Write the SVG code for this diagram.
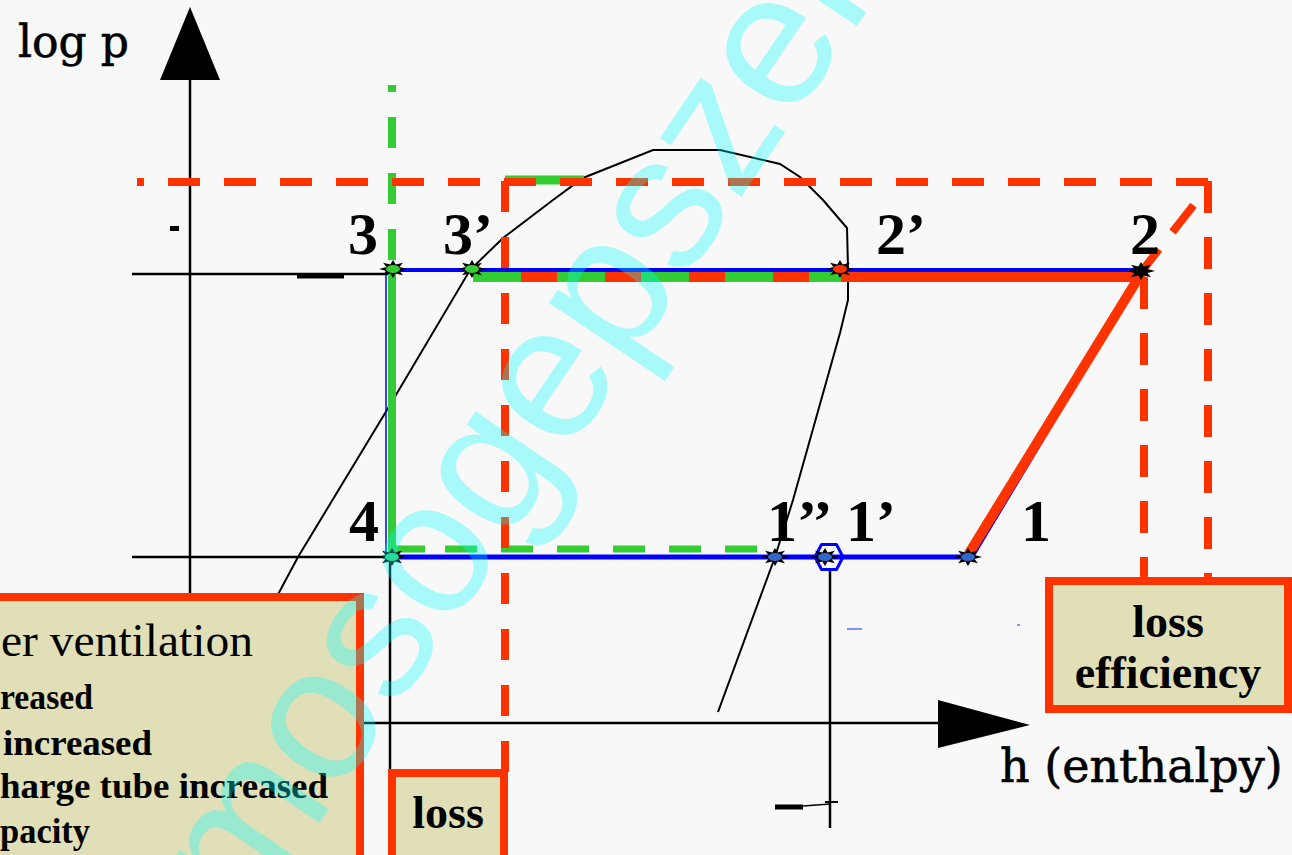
<svg xmlns="http://www.w3.org/2000/svg" width="1292" height="855" viewBox="0 0 1292 855">
<style>
.ax{stroke:#000;stroke-width:2.5;fill:none}
.red{stroke:#ff3300;fill:none}
.grn{stroke:#33cc33;fill:none}
.blu{stroke:#0000ff;fill:none}
.box{fill:#e0dfb8;stroke:#ff3300;stroke-width:8}
.lbl{font-family:"Liberation Serif",serif;font-weight:bold;font-size:60px;fill:#000}
.bx{font-family:"Liberation Serif",serif;font-weight:bold;font-size:46px;fill:#000}
.bl{font-family:"Liberation Serif",serif;font-weight:bold;font-size:35px;fill:#000}
.axt{font-family:"DejaVu Serif",serif;font-size:44px;fill:#000}
</style>
<defs>
<polygon id="star" points="14,0 6.47,1.91 9.9,6.36 2.68,4.62 0,9 -2.68,4.62 -9.9,6.36 -6.47,1.91 -14,0 -6.47,-1.91 -9.9,-6.36 -2.68,-4.62 0,-9 2.68,-4.62 9.9,-6.36 6.47,-1.91" fill="#000"/>
</defs>
<rect width="1292" height="855" fill="#f8f8f8"/>

<g id="axes">
<line class="ax" x1="190" y1="78" x2="190" y2="597"/>
<polygon points="190,7 160,80 220,80" fill="#000"/>
<line class="ax" x1="364" y1="723" x2="940" y2="723"/>
<polygon points="938,700 1030,725 938,748" fill="#000"/>
<text class="axt" x="18" y="57" stroke="#000" stroke-width="0.6">log p</text>
<text class="axt" x="1000" y="782" style="font-size:46px" stroke="#000" stroke-width="0.6">h (enthalpy)</text>
<rect x="170" y="226" width="9" height="5" fill="#000"/>
</g>

<g id="dome">
<polyline fill="none" stroke="#000" stroke-width="2" points="275,600 298,557 390,405 470,270 503,238 553,200 583,178 653,150 720,150 780,164 800,177 823,200 847,228 848,268 848,300 840,333 793,500 775,557 718,712"/>
</g>

<g id="connectors">
<line class="ax" x1="132" y1="274" x2="392" y2="274"/>
<line x1="297" y1="276" x2="344" y2="276" stroke="#000" stroke-width="5"/>
<line class="ax" x1="132" y1="557" x2="392" y2="557"/>
<line class="ax" x1="390" y1="557" x2="390" y2="770"/>
<line class="ax" x1="830" y1="569" x2="830" y2="828"/>
<line x1="775" y1="807" x2="803" y2="807" stroke="#000" stroke-width="5"/>
<line x1="803" y1="806" x2="830" y2="804" stroke="#000" stroke-width="1.5"/>
<line x1="825" y1="802" x2="838" y2="802" stroke="#000" stroke-width="2"/>
<line x1="847" y1="629" x2="862" y2="629" stroke="#3355ff" stroke-width="2" opacity="0.6"/>
<line x1="1017" y1="625" x2="1020" y2="625" stroke="#3355ff" stroke-width="2" opacity="0.6"/>

<line class="grn" x1="505" y1="180" x2="584" y2="180" stroke-width="9"/>
<line class="grn" x1="392" y1="260" x2="392" y2="85" stroke-width="8" stroke-dasharray="31 25"/>
<line class="grn" x1="392" y1="272" x2="392" y2="552" stroke-width="8"/>
<line class="grn" x1="388" y1="549" x2="765" y2="549" stroke-width="7" stroke-dasharray="37 20 32 24 32 24 32 24 32 24 32 24 32 24"/>

<line class="red" x1="137" y1="182" x2="1208" y2="182" stroke-width="8" stroke-dasharray="32 24" stroke-dashoffset="25"/>
<line class="red" x1="505" y1="181" x2="505" y2="772" stroke-width="8" stroke-dasharray="31 25"/>
<line class="red" x1="1208" y1="181" x2="1208" y2="578" stroke-width="8" stroke-dasharray="32 24"/>
<line class="red" x1="1144" y1="277" x2="1144" y2="578" stroke-width="8" stroke-dasharray="32 24"/>
<line class="red" x1="1138" y1="276" x2="1196" y2="202" stroke-width="8" stroke-dasharray="34 22"/>

<line class="blu" x1="386" y1="270" x2="386" y2="557" stroke-width="1.5"/>
<line class="blu" x1="392" y1="270" x2="1142" y2="270" stroke-width="4"/>
<line class="blu" x1="392" y1="557" x2="970" y2="557" stroke-width="5"/>
<line class="blu" x1="972" y1="558" x2="1144" y2="271" stroke-width="3"/>

<line class="red" x1="473" y1="277" x2="1142" y2="277" stroke-width="10"/>
<line class="grn" x1="473" y1="277" x2="841" y2="277" stroke-width="10" stroke-dasharray="48 36"/>
<line class="red" x1="968" y1="555" x2="1142" y2="272" stroke-width="10"/>
</g>

<g id="points">
<g id="p3"><use href="#star" x="393" y="269"/><ellipse cx="393" cy="269" rx="7" ry="4" fill="#33cc33"/></g>
<g id="p3p"><use href="#star" x="472" y="269"/><ellipse cx="472" cy="269" rx="7" ry="4" fill="#33cc33"/></g>
<g id="p2p"><use href="#star" x="840" y="269"/><ellipse cx="840" cy="269" rx="7" ry="4" fill="#ff3300"/></g>
<g id="p2"><use href="#star" x="1141" y="271"/></g>
<g id="p4"><use href="#star" x="392" y="557"/><ellipse cx="392" cy="557" rx="7" ry="4" fill="#33cc66"/></g>
<g id="p1pp"><use href="#star" x="775" y="557"/><ellipse cx="775" cy="557" rx="7" ry="4" fill="#3366cc"/></g>
<g id="p1p"><polygon points="815,557 821.5,544.5 836.5,544.5 843,557 836.5,569.5 821.5,569.5" fill="none" stroke="#0000ff" stroke-width="3" stroke-linejoin="round"/><use href="#star" x="825" y="557"/><ellipse cx="825" cy="557" rx="7" ry="4" fill="#3366cc"/></g>
<g id="p1"><use href="#star" x="968" y="557"/><ellipse cx="968" cy="557" rx="7" ry="4" fill="#3366cc"/></g>
</g>

<g id="labels">
<text class="lbl" x="348" y="254">3</text>
<text class="lbl" x="443" y="254">3’</text>
<text class="lbl" x="876" y="254">2’</text>
<text class="lbl" x="1130" y="254">2</text>
<text class="lbl" x="349" y="541">4</text>
<text class="lbl" x="767" y="541">1’’</text>
<text class="lbl" x="846" y="541">1’</text>
<text class="lbl" x="1021" y="541">1</text>
</g>

<g id="box-ventilation">
<rect class="box" x="-20" y="597" width="380" height="300"/>
<text x="1" y="656" style="font-family:'Liberation Serif',serif;font-size:47px;fill:#000" textLength="252" lengthAdjust="spacingAndGlyphs">er ventilation</text>
<text class="bl" x="0" y="709" textLength="93" lengthAdjust="spacingAndGlyphs">reased</text>
<text class="bl" x="3" y="755" textLength="149" lengthAdjust="spacingAndGlyphs">increased</text>
<text class="bl" x="0" y="798" textLength="328" lengthAdjust="spacingAndGlyphs">harge tube increased</text>
<text class="bl" x="0" y="843" textLength="90" lengthAdjust="spacingAndGlyphs">pacity</text>
</g>

<g id="box-loss">
<rect class="box" x="392" y="773" width="112" height="110"/>
<text class="bx" x="448" y="828" text-anchor="middle">loss</text>
</g>

<g id="box-loss-efficiency">
<rect class="box" x="1049" y="581" width="239" height="128"/>
<text class="bx" x="1168" y="637" text-anchor="middle">loss</text>
<text class="bx" x="1168" y="688" text-anchor="middle">efficiency</text>
</g>

<g id="watermark">
<text x="247" y="930" transform="rotate(-56 247 930)" style="font-family:'Liberation Sans',sans-serif;font-size:190px;fill:#00ffff;fill-opacity:0.32">mosogepszer</text>
</g>
</svg>
